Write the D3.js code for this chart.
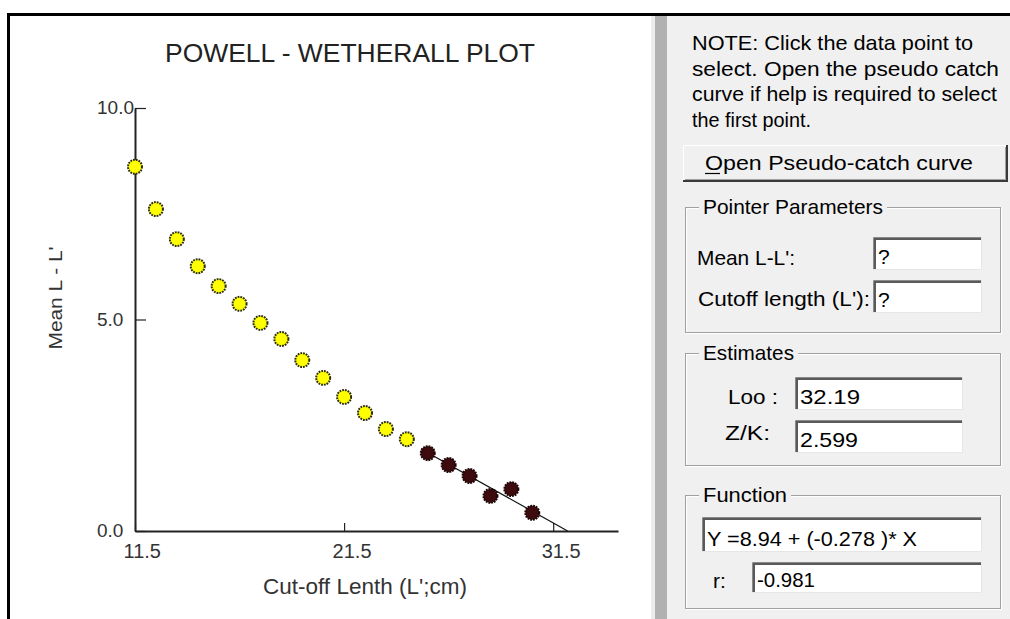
<!DOCTYPE html>
<html><head><meta charset="utf-8">
<script src="https://cdn.jsdelivr.net/npm/d3@7"></script>
<style>
html,body{margin:0;padding:0;background:#fff;overflow:hidden}
text{font-family:"Liberation Sans",Arial,sans-serif}
</style>
</head><body>
<svg id="c" width="1010" height="619"></svg>
<script>
// ---- data ----
const cutoffLength = [11.5,12.5,13.5,14.5,15.5,16.5,17.5,18.5,19.5,20.5,21.5,22.5,23.5,24.5,25.5,26.5,27.5,28.5,29.5,30.5];
const meanLminusLc = [8.61,7.61,6.90,6.26,5.79,5.37,4.92,4.54,4.04,3.62,3.17,2.79,2.41,2.17,1.84,1.56,1.30,0.83,0.99,0.43];
const selectedFlag = [0,0,0,0,0,0,0,0,0,0,0,0,0,0,1,1,1,1,1,1];
const xTickValues = [11.5,21.5,31.5];
const yTickValues = [0,5,10];
const fitIntercept = 8.94;
const fitSlope = -0.278;
const Linf = 32.19;
const ZK = 2.599;
const rValue = -0.981;
const titleText = "POWELL - WETHERALL PLOT";
const xLabel = "Cut-off Lenth (L';cm)";
const yLabel = "Mean L - L'";
const noteLines = ["NOTE: Click the data point to","select. Open the pseudo catch","curve if help is required to select","the first point."];

const svg = d3.select("#c");
svg.append("rect").attr("x",0).attr("y",0).attr("width",1010).attr("height",619).attr("fill","#fff");

// frame
svg.append("rect").attr("x",7).attr("y",13).attr("width",1003).attr("height",3).attr("fill","#000");
svg.append("rect").attr("x",7).attr("y",13).attr("width",3).attr("height",606).attr("fill","#000");
// separator bar
svg.append("rect").attr("x",651).attr("y",16).attr("width",4).attr("height",603).attr("fill","#ececec");
svg.append("rect").attr("x",655).attr("y",16).attr("width",12).attr("height",603).attr("fill","#b1b1b1");
// right panel
svg.append("rect").attr("x",667).attr("y",16).attr("width",343).attr("height",603).attr("fill","#f0f0f0");

// ---- chart ----
const x = d3.scaleLinear().domain([11.5, 34.6]).range([135, 618]);
const y = d3.scaleLinear().domain([0, 10]).range([531, 108]);
const g = svg.append("g");

g.append("text").attr("x",165).attr("y",62).attr("font-size",26).attr("fill","#222")
  .attr("textLength",370).attr("lengthAdjust","spacingAndGlyphs").text(titleText);

const xAxis = d3.axisBottom(x).tickValues(xTickValues).tickFormat(d3.format(".1f"))
  .tickSizeInner(-8).tickSizeOuter(0).tickPadding(13);
const gx = g.append("g").attr("transform","translate(0,531)").call(xAxis);
gx.select(".domain").attr("stroke","#222").attr("stroke-width",2);
gx.selectAll(".tick line").attr("stroke","#222").attr("stroke-width",1.2);
gx.selectAll(".tick text").attr("text-anchor","start").attr("x",-12)
  .attr("font-size",20).attr("fill","#333").style("font-family",'"Liberation Sans",Arial,sans-serif');

const yAxis = d3.axisLeft(y).tickValues(yTickValues).tickFormat(d3.format(".1f"))
  .tickSizeInner(-11).tickSizeOuter(0).tickPadding(3);
const gy = g.append("g").attr("transform","translate(135,0)").call(yAxis);
gy.select(".domain").attr("stroke","#222").attr("stroke-width",2);
gy.selectAll(".tick line").attr("stroke","#222").attr("stroke-width",1.2);
gy.selectAll(".tick text").attr("text-anchor","start").attr("x",-38).attr("dy","0.3em")
  .attr("font-size",19).attr("fill","#333").style("font-family",'"Liberation Sans",Arial,sans-serif');

g.append("text").attr("transform","translate(62,298) rotate(-90)").attr("text-anchor","middle")
  .attr("font-size",19).attr("fill","#333").attr("textLength",103).attr("lengthAdjust","spacingAndGlyphs").text(yLabel);
g.append("text").attr("x",365).attr("y",594).attr("text-anchor","middle")
  .attr("font-size",22).attr("fill","#333").attr("textLength",204).attr("lengthAdjust","spacingAndGlyphs").text(xLabel);

// regression line from first selected point to L-infinity
const firstSel = cutoffLength[selectedFlag.indexOf(1)];
const fitX = [firstSel, Linf];
g.append("line")
  .attr("x1",x(fitX[0])).attr("y1",y(fitIntercept + fitSlope*fitX[0]))
  .attr("x2",x(fitX[1])).attr("y2",y(Math.max(0,fitIntercept + fitSlope*fitX[1])))
  .attr("stroke","#111").attr("stroke-width",1.2);

const pts = cutoffLength.map((c,i)=>({c, m: meanLminusLc[i], s: selectedFlag[i]}));
g.selectAll("circle.pt").data(pts).join("circle").attr("class","pt")
  .attr("cx",d=>x(d.c)).attr("cy",d=>y(d.m)).attr("r",7)
  .attr("fill",d=>d.s ? "#3d0b0d" : "#ffff00")
  .attr("stroke",d=>d.s ? "#1a0505" : "#2b2b0c").attr("stroke-width",2)
  .attr("stroke-dasharray","1.8 1");

// ---- right panel ----
const P = svg.append("g").attr("fill","#000").attr("font-size",21);
const noteBase = [50, 76, 101, 127];
const noteLen = [281, 307, 305, 119];
noteLines.forEach((t,i)=>{
  P.append("text").attr("x",692).attr("y",noteBase[i]).attr("font-size",21)
   .attr("textLength",noteLen[i]).attr("lengthAdjust","spacingAndGlyphs").text(t);
});

// button
P.append("rect").attr("x",683).attr("y",145).attr("width",325).attr("height",37).attr("fill","#f0f0f0");
P.append("path").attr("d","M683.5,181.5 V145.5 H1007.5").attr("fill","none").attr("stroke","#fff").attr("stroke-width",1);
P.append("path").attr("d","M683,181 H1007 V145").attr("fill","none").attr("stroke","#3a3a3a").attr("stroke-width",2);
P.append("path").attr("d","M685,179.5 H1005.5 V147").attr("fill","none").attr("stroke","#a0a0a0").attr("stroke-width",1);
P.append("text").attr("x",705).attr("y",170).attr("font-size",21)
  .attr("textLength",268).attr("lengthAdjust","spacingAndGlyphs").text("Open Pseudo-catch curve");
P.append("line").attr("x1",705).attr("x2",720).attr("y1",173.5).attr("y2",173.5).attr("stroke","#000").attr("stroke-width",1.2);

function groupBox(x0,y0,w,h,label,labelW){
  P.append("rect").attr("x",x0+1.5).attr("y",y0+1.5).attr("width",w).attr("height",h).attr("fill","none").attr("stroke","#fff");
  P.append("rect").attr("x",x0+0.5).attr("y",y0+0.5).attr("width",w).attr("height",h).attr("fill","none").attr("stroke","#a0a0a0");
  P.append("rect").attr("x",x0+14).attr("y",y0-10).attr("width",labelW+8).attr("height",20).attr("fill","#f0f0f0");
  P.append("text").attr("x",x0+18).attr("y",y0+7).attr("font-size",21)
   .attr("textLength",labelW).attr("lengthAdjust","spacingAndGlyphs").text(label);
}
function inputBox(x0,y0,w,h,val,valW){
  P.append("rect").attr("x",x0).attr("y",y0).attr("width",w).attr("height",h).attr("fill","#fff");
  P.append("path").attr("d",`M${x0+0.5},${y0+h} V${y0+0.5} H${x0+w}`).attr("fill","none").attr("stroke","#8a8a8a").attr("stroke-width",1);
  P.append("path").attr("d",`M${x0+2},${y0+h-1} V${y0+2} H${x0+w-1}`).attr("fill","none").attr("stroke","#5a5a5a").attr("stroke-width",2);
  P.append("path").attr("d",`M${x0},${y0+h-0.5} H${x0+w-0.5} V${y0}`).attr("fill","none").attr("stroke","#e6e6e6").attr("stroke-width",1);
  const t = P.append("text").attr("x",x0+5).attr("y",y0+h-6).attr("font-size",21).text(val);
  if(valW) t.attr("textLength",valW).attr("lengthAdjust","spacingAndGlyphs");
}

groupBox(685,207,315,125,"Pointer Parameters",180);
P.append("text").attr("x",697).attr("y",265).attr("textLength",98).attr("lengthAdjust","spacingAndGlyphs").text("Mean L-L':");
inputBox(873,237,109,33,"?");
P.append("text").attr("x",698).attr("y",306).attr("textLength",172).attr("lengthAdjust","spacingAndGlyphs").text("Cutoff length (L'):");
inputBox(873,280,109,33,"?");

groupBox(685,353,315,112,"Estimates",91);
P.append("text").attr("x",728).attr("y",404).attr("textLength",50).attr("lengthAdjust","spacingAndGlyphs").text("Loo :");
inputBox(795,377,168,33,Linf.toFixed(2),60);
P.append("text").attr("x",725).attr("y",440).attr("textLength",45).attr("lengthAdjust","spacingAndGlyphs").text("Z/K:");
inputBox(795,420,168,33,ZK.toFixed(3),58);

groupBox(685,495,315,113,"Function",84);
inputBox(702,517,280,35,`Y =${fitIntercept.toFixed(2)} + (${fitSlope.toFixed(3)} )* X`,210);
P.append("text").attr("x",713).attr("y",588).text("r:");
inputBox(752,562,230,31,rValue.toFixed(3),58);
</script>
</body></html>
